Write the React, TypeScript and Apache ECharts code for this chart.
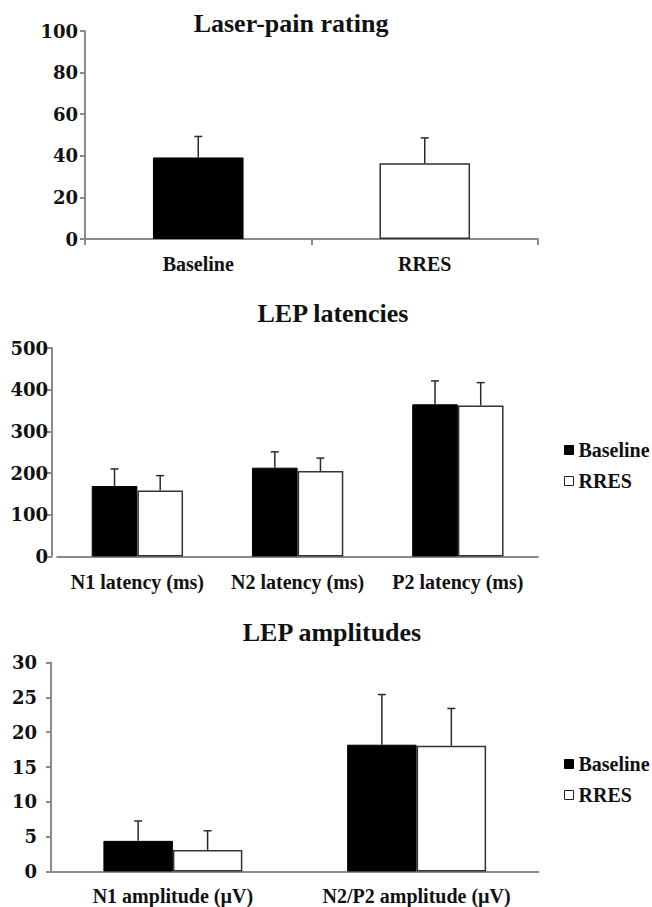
import React, { useEffect, useRef } from "react";
import * as echarts from "echarts";

// ---- data ----
const ratingCategories = ["Baseline", "RRES"];
const ratingValues = [39.2, 36.4];
const ratingErrors = [10.1, 12.2];

const latencyCategories = ["N1 latency (ms)", "N2 latency (ms)", "P2 latency (ms)"];
const latencyBaseline = [169, 213, 365];
const latencyBaselineErr = [41, 38, 56];
const latencyRres = [158, 205, 362];
const latencyRresErr = [36, 31, 55];

const amplitudeCategories = ["N1 amplitude (\u00B5V)", "N2/P2 amplitude (\u00B5V)"];
const amplitudeBaseline = [4.4, 18.2];
const amplitudeBaselineErr = [2.85, 7.2];
const amplitudeRres = [3.1, 18.05];
const amplitudeRresErr = [2.75, 5.35];

const titles = ["Laser-pain rating", "LEP latencies", "LEP amplitudes"];
const legendNames = ["Baseline", "RRES"];

const SERIF = "Liberation Serif";
const TICKFONT = "DejaVu Serif";
const AXIS_COLOR = "#8a8a8a";
const ERR_COLOR = "#2a2a2a";

function errorSeries(name: string, cats: string[], vals: number[], errs: number[], axis: number, offsetFrac: number) {
  return {
    type: "custom",
    name,
    xAxisIndex: axis,
    yAxisIndex: axis,
    z: 5,
    silent: true,
    encode: { x: 0, y: 1 },
    data: cats.map((c, i) => [c, vals[i], errs[i]]),
    renderItem: (params: any, api: any) => {
      const idx = api.value(0);
      const v = api.value(1);
      const e = api.value(2);
      const p0 = api.coord([idx, v]);
      const p1 = api.coord([idx, v + e]);
      const band = api.size([1, 0])[0];
      const x = p0[0] + offsetFrac * band;
      const half = 4;
      return {
        type: "group",
        children: [
          { type: "line", shape: { x1: x, y1: p0[1], x2: x, y2: p1[1] }, style: { stroke: ERR_COLOR, lineWidth: 1.5 } },
          { type: "line", shape: { x1: x - half, y1: p1[1], x2: x + half, y2: p1[1] }, style: { stroke: ERR_COLOR, lineWidth: 1.5 } },
        ],
      };
    },
  };
}

function xAxisCfg(grid: number, cats: string[], ticks: boolean, margin: number) {
  return {
    type: "category",
    gridIndex: grid,
    data: cats,
    axisLine: { lineStyle: { color: AXIS_COLOR, width: 2 } },
    axisTick: { show: ticks, length: 6, lineStyle: { color: AXIS_COLOR, width: 2 } },
    axisLabel: { interval: 0, margin, color: "#111", fontFamily: SERIF, fontWeight: "bold", fontSize: 20 },
    splitLine: { show: false },
  };
}

function yAxisCfg(grid: number, max: number, interval: number, margin: number, offset: number) {
  return {
    type: "value",
    gridIndex: grid,
    min: 0,
    max,
    interval,
    offset,
    axisLine: { show: true, lineStyle: { color: AXIS_COLOR, width: 2 } },
    axisTick: { show: true, length: 5, lineStyle: { color: AXIS_COLOR, width: 2 } },
    axisLabel: { margin, color: "#111", fontFamily: TICKFONT, fontWeight: "bold", fontSize: 18 },
    splitLine: { show: false },
  };
}

const blackStyle = { color: "#000", borderColor: "#000", borderWidth: 1 };
const whiteStyle = { color: "#fff", borderColor: "#333", borderWidth: 1.5 };

function legendCfg(top: number) {
  return {
    orient: "vertical",
    left: 564,
    top,
    padding: 0,
    itemWidth: 9,
    itemHeight: 9,
    itemGap: 11,
    icon: "rect",
    selectedMode: false,
    textStyle: { fontFamily: SERIF, fontWeight: "bold", fontSize: 20, color: "#111", lineHeight: 20 },
    data: [
      { name: legendNames[0], itemStyle: { color: "#000", borderColor: "#000", borderWidth: 1 } },
      { name: legendNames[1], itemStyle: { color: "#fff", borderColor: "#222", borderWidth: 1 } },
    ],
  };
}

function titleText(text: string, x: number, y: number) {
  return {
    type: "text",
    x,
    y,
    style: {
      text,
      fontFamily: SERIF,
      fontWeight: "bold",
      fontSize: 26,
      fill: "#111",
      align: "center",
      verticalAlign: "middle",
      textAlign: "center",
      textVerticalAlign: "middle",
    },
  };
}

export default function App() {
  const ref = useRef<HTMLDivElement>(null);
  useEffect(() => {
    if (!ref.current) return;
    const chart = echarts.init(ref.current, null, { renderer: "svg" });
    const option: any = {
      animation: false,
      backgroundColor: "#fff",
      grid: [
        { left: 85, top: 31, width: 453, height: 208 },
        { left: 57.25, top: 348, width: 480.75, height: 208.5 },
        { left: 51, top: 662.5, width: 487.5, height: 209 },
      ],
      xAxis: [
        xAxisCfg(0, ratingCategories, true, 15),
        xAxisCfg(1, latencyCategories, false, 15),
        xAxisCfg(2, amplitudeCategories, false, 14),
      ],
      yAxis: [
        yAxisCfg(0, 100, 20, 7, 0),
        yAxisCfg(1, 500, 100, 4, 5.25),
        yAxisCfg(2, 30, 5, 14, 0),
      ],
      legend: [legendCfg(440), legendCfg(754)],
      graphic: [
        titleText(titles[0], 291, 23),
        titleText(titles[1], 333, 313),
        titleText(titles[2], 332, 632),
      ],
      series: [
        {
          type: "bar",
          name: titles[0],
          xAxisIndex: 0,
          yAxisIndex: 0,
          barWidth: "40%",
          data: ratingValues.map((v, i) => ({ value: v, itemStyle: i === 0 ? blackStyle : whiteStyle })),
        },
        errorSeries("rating-err", ratingCategories, ratingValues, ratingErrors, 0, 0),
        {
          type: "bar",
          name: legendNames[0],
          xAxisIndex: 1,
          yAxisIndex: 1,
          barGap: "0%",
          barCategoryGap: "43%",
          itemStyle: blackStyle,
          data: latencyBaseline,
        },
        {
          type: "bar",
          name: legendNames[1],
          xAxisIndex: 1,
          yAxisIndex: 1,
          barGap: "0%",
          barCategoryGap: "43%",
          itemStyle: whiteStyle,
          data: latencyRres,
        },
        errorSeries("lat-err-b", latencyCategories, latencyBaseline, latencyBaselineErr, 1, -0.1425),
        errorSeries("lat-err-r", latencyCategories, latencyRres, latencyRresErr, 1, 0.1425),
        {
          type: "bar",
          name: legendNames[0],
          xAxisIndex: 2,
          yAxisIndex: 2,
          barGap: "0%",
          barCategoryGap: "43%",
          itemStyle: blackStyle,
          data: amplitudeBaseline,
        },
        {
          type: "bar",
          name: legendNames[1],
          xAxisIndex: 2,
          yAxisIndex: 2,
          barGap: "0%",
          barCategoryGap: "43%",
          itemStyle: whiteStyle,
          data: amplitudeRres,
        },
        errorSeries("amp-err-b", amplitudeCategories, amplitudeBaseline, amplitudeBaselineErr, 2, -0.1425),
        errorSeries("amp-err-r", amplitudeCategories, amplitudeRres, amplitudeRresErr, 2, 0.1425),
      ],
    };
    chart.setOption(option);
    return () => chart.dispose();
  }, []);
  return (
    <div
      ref={ref}
      style={{ position: "absolute", left: 0, top: 0, width: 652, height: 907, background: "#fff" }}
    />
  );
}
